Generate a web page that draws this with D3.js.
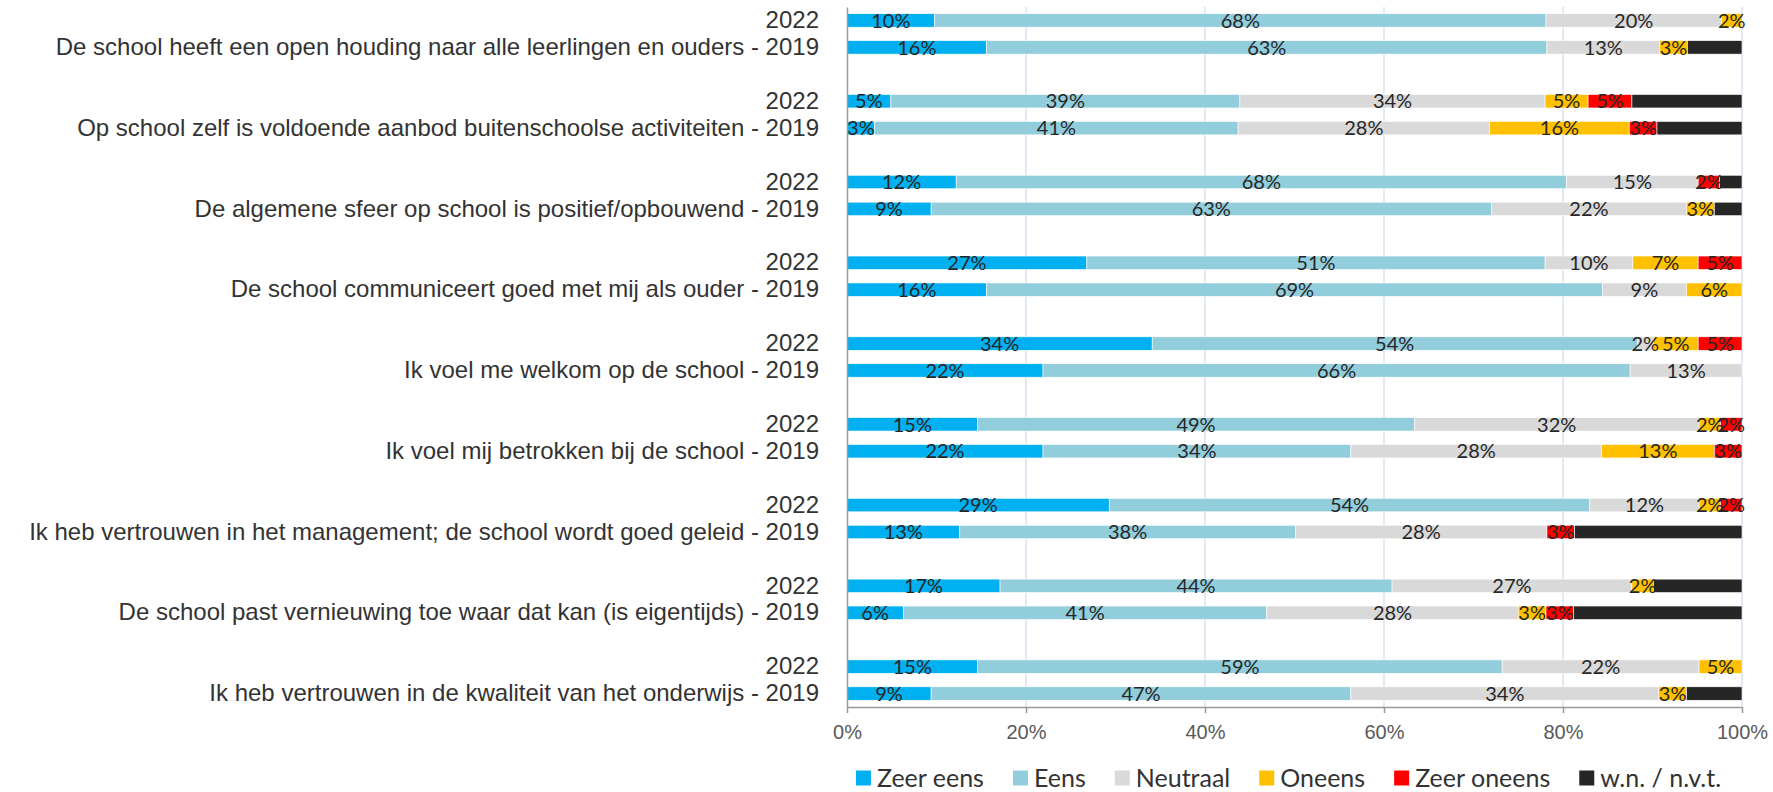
<!DOCTYPE html>
<html>
<head>
<meta charset="utf-8">
<title>Tevredenheid ouders 2022 - 2019</title>
<style type="text/css">
  body { margin: 0; background: #fff; }
  svg { display: block; font-family: Lato, "Noto Sans", sans-serif; }
</style>
</head>
<body>
<script src="https://d3js.org/d3.v7.min.js"></script>
<script type="text/javascript">
  // size of the picture
  const w = 1773;
  const h = 792;
  const margin = {top: 7, right: 31, bottom: 85, left: 847};
  const inner_w = w - margin.left - margin.right;
  const inner_h = h - margin.top - margin.bottom;

  // ---- data (percentages) ----
  const statements = [
    "De school heeft een open houding naar alle leerlingen en ouders",
    "Op school zelf is voldoende aanbod buitenschoolse activiteiten",
    "De algemene sfeer op school is positief/opbouwend",
    "De school communiceert goed met mij als ouder",
    "Ik voel me welkom op de school",
    "Ik voel mij betrokken bij de school",
    "Ik heb vertrouwen in het management; de school wordt goed geleid",
    "De school past vernieuwing toe waar dat kan (is eigentijds)",
    "Ik heb vertrouwen in de kwaliteit van het onderwijs"
  ];
  const years = ["2022", "2019"];
  const answers = ["Zeer eens", "Eens", "Neutraal", "Oneens", "Zeer oneens", "w.n. / n.v.t."];
  const colors = ["#00B0F0", "#92CDDC", "#D9D9D9", "#FFC000", "#FF0000", "#262626"];

  const zeerEens2022   = [9.8, 4.9, 12.2, 26.8, 34.1, 14.6, 29.3, 17.1, 14.6];
  const eens2022       = [68.3, 39.0, 68.2, 51.2, 54.2, 48.8, 53.7, 43.8, 58.6];
  const neutraal2022   = [19.6, 34.1, 14.7, 9.8, 1.8, 31.8, 12.2, 26.8, 22.0];
  const oneens2022     = [2.3, 4.8, 0, 7.3, 5.0, 2.4, 2.4, 2.4, 4.8];
  const zeerOneens2022 = [0, 4.9, 2.4, 4.9, 4.9, 2.4, 2.4, 0, 0];
  const wn2022         = [0, 12.3, 2.5, 0, 0, 0, 0, 9.9, 0];

  const zeerEens2019   = [15.6, 3.1, 9.4, 15.6, 21.9, 21.9, 12.6, 6.3, 9.4];
  const eens2019       = [62.6, 40.6, 62.6, 68.8, 65.6, 34.4, 37.5, 40.6, 46.9];
  const neutraal2019   = [12.6, 28.1, 21.8, 9.4, 12.5, 28.0, 28.1, 28.1, 34.4];
  const oneens2019     = [3.1, 15.6, 3.1, 6.2, 0, 12.6, 0, 3.1, 3.1];
  const zeerOneens2019 = [0, 3.1, 0, 0, 0, 3.1, 3.1, 3.1, 0];
  const wn2019         = [6.1, 9.5, 3.1, 0, 0, 0, 18.7, 18.8, 6.2];

  const xTicks = [0, 20, 40, 60, 80, 100];

  // build one row per statement and year; an empty slot separates the statements
  const perYear = {
    "2022": [zeerEens2022, eens2022, neutraal2022, oneens2022, zeerOneens2022, wn2022],
    "2019": [zeerEens2019, eens2019, neutraal2019, oneens2019, zeerOneens2019, wn2019]
  };
  const rows = [];
  const slots = [];
  const slotLabel = {};
  statements.forEach((s, i) => {
    years.forEach(yr => {
      const key = i + "-" + yr;
      const row = {key: key};
      answers.forEach((a, j) => row[a] = perYear[yr][j][i]);
      rows.push(row);
      slots.push(key);
      slotLabel[key] = yr === "2022" ? "2022" : s + " - " + yr;
    });
    if (i < statements.length - 1) {
      slots.push("gap-" + i);
      slotLabel["gap-" + i] = "";
    }
  });

  const svg = d3.select("body").append("svg")
    .attr("width", w)
    .attr("height", h);

  const g = svg.append("g").attr("transform", `translate(${margin.left},${margin.top})`);

  const x = d3.scaleLinear().domain([0, 100]).range([0, inner_w]);
  const y = d3.scaleBand().domain(slots).range([0, inner_h]).paddingInner(0.5).paddingOuter(0.25);
  const color = d3.scaleOrdinal().domain(answers).range(colors);

  // vertical gridlines
  g.append("g").selectAll("line")
    .data(xTicks.filter(d => d > 0))
    .join("line")
    .attr("x1", d => x(d)).attr("x2", d => x(d))
    .attr("y1", 0).attr("y2", inner_h)
    .attr("stroke", "#D9E2F1")
    .attr("stroke-width", 1.5);

  // stacked bars
  const stacked = d3.stack().keys(answers)(rows);

  const layers = g.append("g").selectAll("g")
    .data(stacked)
    .join("g")
    .attr("fill", d => color(d.key));

  layers.selectAll("rect")
    .data(d => d.filter(p => p[1] - p[0] > 0))
    .join("rect")
    .attr("x", d => x(d[0]))
    .attr("width", d => x(d[1]) - x(d[0]))
    .attr("y", d => y(d.data.key))
    .attr("height", y.bandwidth())
    .attr("stroke", "#fff")
    .attr("stroke-width", 0.6);

  // value labels (not on the dark w.n. segments)
  stacked.filter(s => s.key !== "w.n. / n.v.t.").forEach(s => {
    g.append("g").selectAll("text")
      .data(s.filter(p => p[1] - p[0] > 0))
      .join("text")
      .attr("x", d => x((d[0] + d[1]) / 2))
      .attr("y", d => y(d.data.key) + y.bandwidth() / 2)
      .attr("dy", "0.36em")
      .attr("text-anchor", "middle")
      .attr("font-size", 20)
      .attr("fill", "#262626")
      .text(d => Math.round(d[1] - d[0]) + "%");
  });

  // category axis
  const yAxis = g.append("g")
    .call(d3.axisLeft(y).tickSize(0).tickPadding(28).tickFormat(k => slotLabel[k]));
  yAxis.select(".domain").attr("stroke", "#999").attr("stroke-width", 1.5);
  yAxis.selectAll("text").attr("font-size", 24).attr("font-family", null).attr("fill", "#333");

  // value axis
  const xAxis = g.append("g")
    .attr("transform", `translate(0,${inner_h})`)
    .call(d3.axisBottom(x).tickValues(xTicks).tickFormat(d => d + "%").tickSize(6).tickSizeOuter(0).tickPadding(12));
  xAxis.select(".domain").attr("stroke", "#999").attr("stroke-width", 1.5);
  xAxis.selectAll(".tick line").attr("stroke", "#999").attr("stroke-width", 1.5);
  xAxis.selectAll("text").attr("font-size", 20).attr("font-family", null).attr("fill", "#595959");

  // legend, centred under the plot
  const legend = svg.append("g");
  const items = legend.selectAll("g")
    .data(answers)
    .join("g");
  items.append("rect")
    .attr("width", 15).attr("height", 15)
    .attr("y", -7.5)
    .attr("fill", d => color(d));
  items.append("text")
    .attr("x", 21)
    .attr("dy", "0.35em")
    .attr("font-size", 25)
    .attr("fill", "#333")
    .text(d => d);
  let pos = 0;
  items.each(function() {
    const wText = d3.select(this).select("text").node().getComputedTextLength();
    d3.select(this).attr("transform", `translate(${pos},0)`);
    pos += 21 + wText + 29;
  });
  const legendW = pos - 29;
  legend.attr("transform", `translate(${margin.left + inner_w / 2 - 6 - legendW / 2},778)`);
</script>
</body>
</html>
